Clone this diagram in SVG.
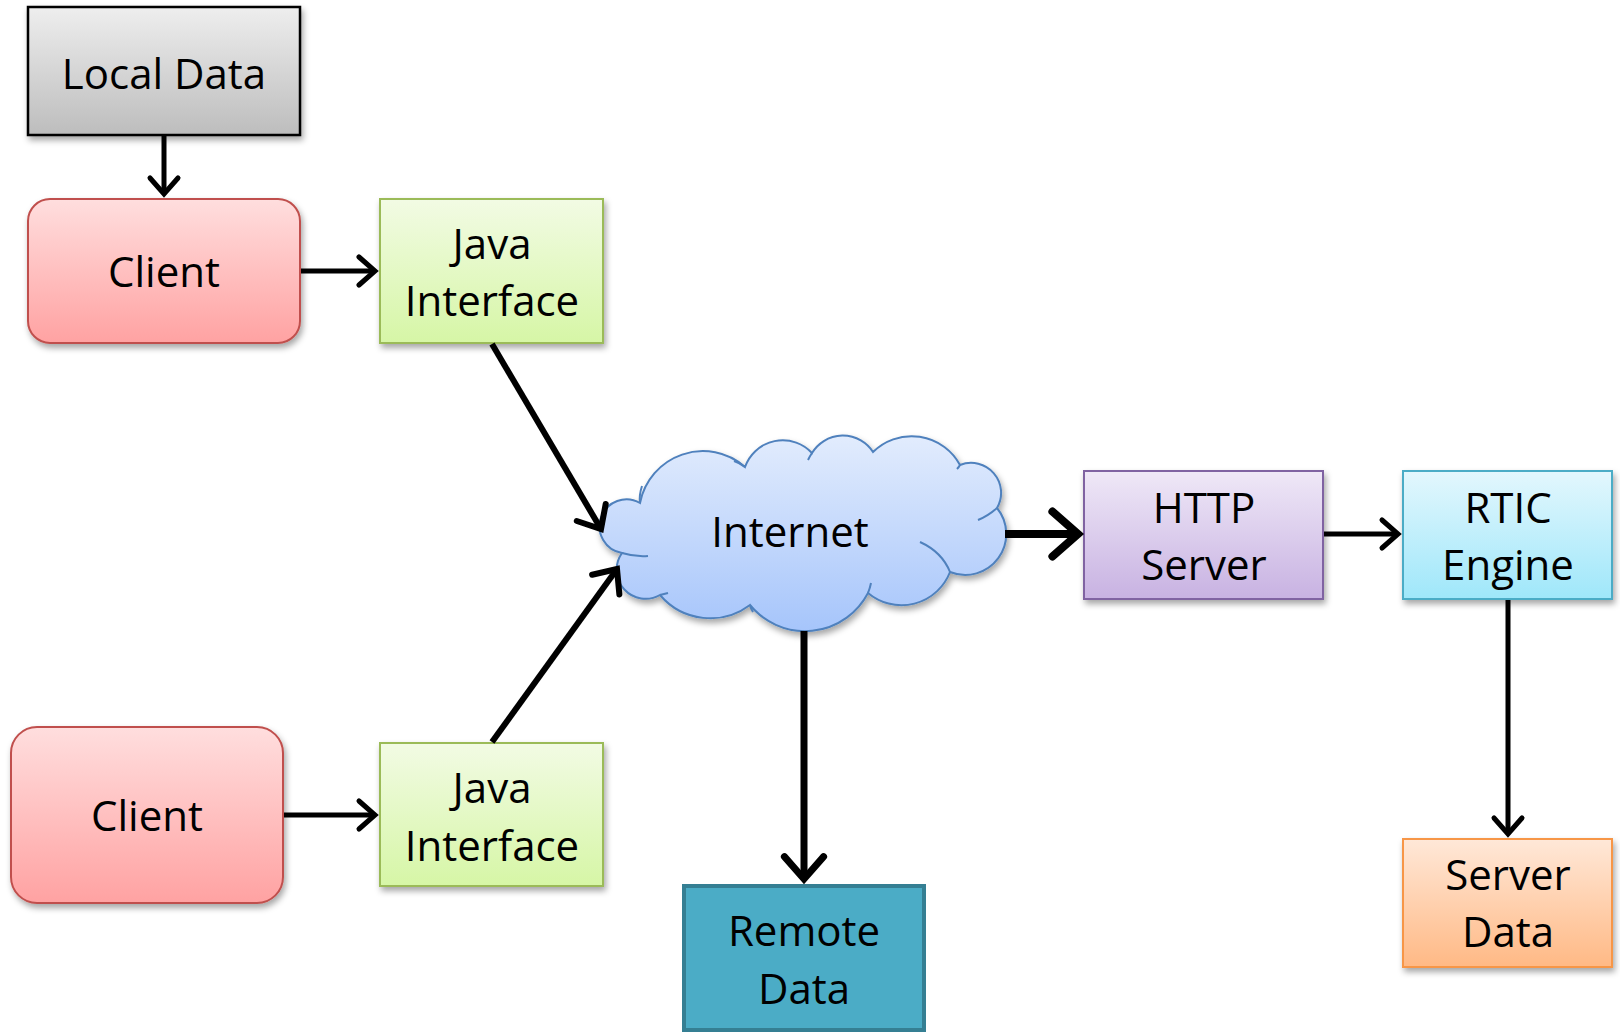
<svg xmlns="http://www.w3.org/2000/svg" width="1620" height="1032" viewBox="0 0 1620 1032">
<defs>
<style>
.t{font-family:"Open Sans","Noto Sans","Liberation Sans",sans-serif;font-size:42px;fill:#000;text-anchor:middle}
.c{fill:none;stroke:#000;stroke-linecap:butt}
</style>
<linearGradient id="gGray" x1="0" y1="0" x2="0" y2="1"><stop offset="0" stop-color="#eeeeee"/><stop offset="1" stop-color="#bdbdbd"/></linearGradient>
<linearGradient id="gRed" x1="0" y1="0" x2="0" y2="1"><stop offset="0" stop-color="#ffdede"/><stop offset="1" stop-color="#ffa2a2"/></linearGradient>
<linearGradient id="gGreen" x1="0" y1="0" x2="0" y2="1"><stop offset="0" stop-color="#f2fbe4"/><stop offset="1" stop-color="#d6f6a6"/></linearGradient>
<linearGradient id="gBlue" x1="0" y1="0" x2="0" y2="1"><stop offset="0" stop-color="#e2ecfd"/><stop offset="1" stop-color="#a6c5fb"/></linearGradient>
<linearGradient id="gPurple" x1="0" y1="0" x2="0" y2="1"><stop offset="0" stop-color="#efe8f7"/><stop offset="1" stop-color="#c8b2e2"/></linearGradient>
<linearGradient id="gCyan" x1="0" y1="0" x2="0" y2="1"><stop offset="0" stop-color="#e3f7fd"/><stop offset="1" stop-color="#9fe7fa"/></linearGradient>
<linearGradient id="gOrange" x1="0" y1="0" x2="0" y2="1"><stop offset="0" stop-color="#ffe8d8"/><stop offset="1" stop-color="#ffb985"/></linearGradient>
<filter id="sh" x="-10%" y="-10%" width="125%" height="130%"><feDropShadow dx="2" dy="4" stdDeviation="3" flood-color="#000" flood-opacity="0.35"/></filter>
<marker id="ah" viewBox="-5 -5 7 10" refX="0" refY="0" markerWidth="7" markerHeight="10" orient="auto" markerUnits="strokeWidth" overflow="visible">
<path d="M-3.2,-2.8 L0,0 L-3.2,2.8" fill="none" stroke="#000" stroke-width="1" stroke-linecap="round" stroke-linejoin="miter"/>
</marker>
</defs>
<rect width="1620" height="1032" fill="#fff"/>

<g id="local-data">
<rect x="28" y="7" width="272" height="128" fill="url(#gGray)" stroke="#000" stroke-width="2.5" filter="url(#sh)"/>
<text class="t" x="164" y="89">Local Data</text>
</g>

<g id="client-1">
<rect x="28" y="199" width="272" height="144" rx="22" fill="url(#gRed)" stroke="#c0504d" stroke-width="2" filter="url(#sh)"/>
<text class="t" x="164" y="287">Client</text>
</g>

<g id="java-interface-1">
<rect x="380" y="199" width="223" height="144" fill="url(#gGreen)" stroke="#9bbb59" stroke-width="2" filter="url(#sh)"/>
<text class="t" x="492" y="259">Java</text>
<text class="t" x="492" y="316">Interface</text>
</g>

<g id="client-2">
<rect x="11" y="727" width="272" height="176" rx="26" fill="url(#gRed)" stroke="#c0504d" stroke-width="2" filter="url(#sh)"/>
<text class="t" x="147" y="831">Client</text>
</g>

<g id="java-interface-2">
<rect x="380" y="743" width="223" height="143" fill="url(#gGreen)" stroke="#9bbb59" stroke-width="2" filter="url(#sh)"/>
<text class="t" x="492" y="803">Java</text>
<text class="t" x="492" y="861">Interface</text>
</g>

<g id="internet">
<path d="M622,553 A27,27 0 1 1 640,503 A64,64 0 0 1 745,467 A40,40 0 0 1 812,453 A36,36 0 0 1 873,452 A55,55 0 0 1 960,465 A30,30 0 0 1 997,508 A41,41 0 0 1 950,572 A52,52 0 0 1 868,593 A71,71 0 0 1 750,605 A66,66 0 0 1 660,595 A29,29 0 0 1 622,553 Z" fill="url(#gBlue)" stroke="#4f81bd" stroke-width="2" filter="url(#sh)"/>
<g fill="none" stroke="#4f81bd" stroke-width="2">
<path d="M622,553 Q635,557 648,556"/>
<path d="M640,503 Q639,495 642,486"/>
<path d="M745,467 Q740,463 734,461"/>
<path d="M812,453 Q810,456 808,460"/>
<path d="M960,465 Q959,467 957,469"/>
<path d="M997,508 Q988,516 978,520"/>
<path d="M950,572 Q942,552 920,542"/>
<path d="M868,593 Q870,588 871,583"/>
<path d="M750,605 Q751,609 753,612"/>
<path d="M660,595 Q664,594 668,593"/>
</g>
<text class="t" x="790" y="547">Internet</text>
</g>

<g id="http-server">
<rect x="1084" y="471" width="239" height="128" fill="url(#gPurple)" stroke="#8064a2" stroke-width="2" filter="url(#sh)"/>
<text class="t" x="1204" y="523">HTTP</text>
<text class="t" x="1204" y="580">Server</text>
</g>

<g id="rtic-engine">
<rect x="1403" y="471" width="209" height="128" fill="url(#gCyan)" stroke="#4bacc6" stroke-width="2" filter="url(#sh)"/>
<text class="t" x="1508" y="523">RTIC</text>
<text class="t" x="1508" y="580">Engine</text>
</g>

<g id="remote-data">
<rect x="684" y="886" width="240" height="144" fill="#4bacc6" stroke="#357f93" stroke-width="4"/>
<text class="t" x="804" y="946">Remote</text>
<text class="t" x="804" y="1004">Data</text>
</g>

<g id="server-data">
<rect x="1403" y="839" width="209" height="128" fill="url(#gOrange)" stroke="#f79646" stroke-width="2" filter="url(#sh)"/>
<text class="t" x="1508" y="890">Server</text>
<text class="t" x="1508" y="947">Data</text>
</g>

<g id="connectors">
<line class="c" x1="164" y1="136" x2="164" y2="194" stroke-width="5" marker-end="url(#ah)"/>
<line class="c" x1="301" y1="271" x2="375" y2="271" stroke-width="5" marker-end="url(#ah)"/>
<line class="c" x1="492" y1="344" x2="601" y2="529" stroke-width="6" marker-end="url(#ah)"/>
<line class="c" x1="284" y1="815" x2="375" y2="815" stroke-width="5" marker-end="url(#ah)"/>
<line class="c" x1="492" y1="742" x2="617" y2="569" stroke-width="6" marker-end="url(#ah)"/>
<line class="c" x1="1005" y1="534" x2="1078" y2="534" stroke-width="8" marker-end="url(#ah)"/>
<line class="c" x1="1324" y1="534" x2="1398" y2="534" stroke-width="5" marker-end="url(#ah)"/>
<line class="c" x1="1508" y1="600" x2="1508" y2="834" stroke-width="5" marker-end="url(#ah)"/>
<line class="c" x1="804" y1="631" x2="804" y2="879" stroke-width="7" marker-end="url(#ah)"/>
</g>
</svg>
